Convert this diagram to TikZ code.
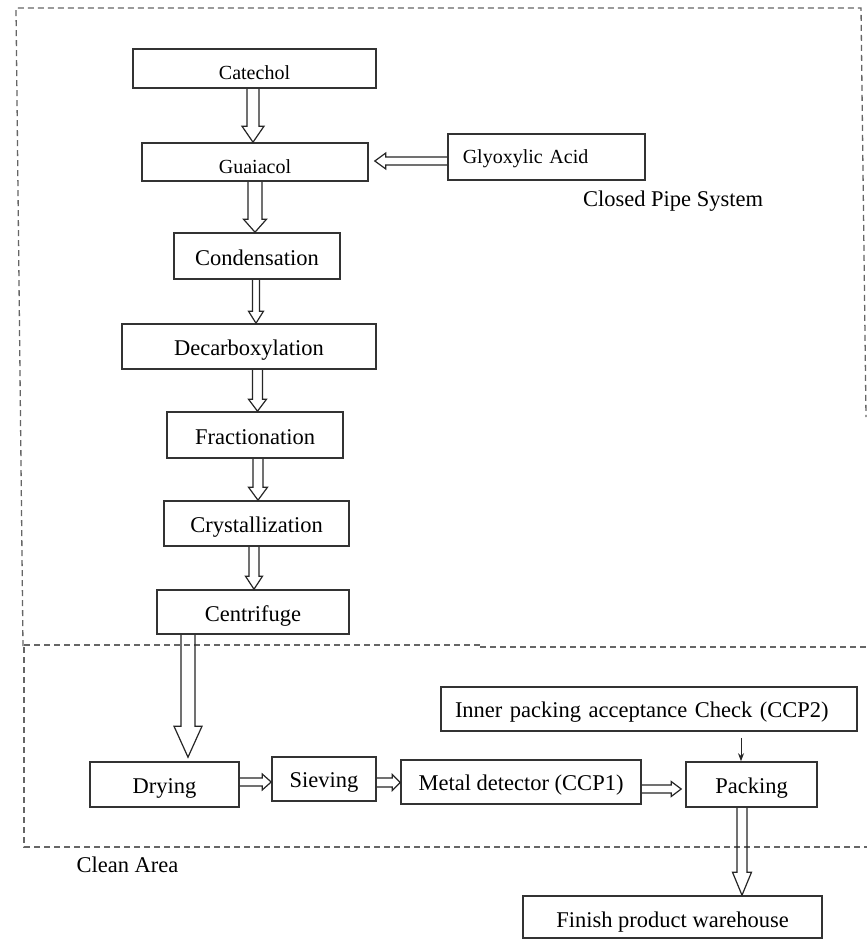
\documentclass[tikz,border=0pt]{standalone}
\usepackage{fontspec}
\setmainfont{Liberation Serif}
\usetikzlibrary{calc,arrows.meta}
\newcommand\fs[1]{\fontsize{#1}{#1}\selectfont}
% vertical down block arrow: #1 x(px), #2 from anchor, #3 to anchor, #4 shaft half, #5 head half, #6 head length, #7 gap
\newcommand\vblk[7]{%
  \draw[blk] let \p1=(#2), \p2=(#3) in
   (#1pt-#4pt,\y1) -- (#1pt-#4pt,\y2+#7pt+#6pt) -- (#1pt-#5pt,\y2+#7pt+#6pt) -- (#1pt,\y2+#7pt)
   -- (#1pt+#5pt,\y2+#7pt+#6pt) -- (#1pt+#4pt,\y2+#7pt+#6pt) -- (#1pt+#4pt,\y1);}
% rightward block arrow: #1 y(px)
\newcommand\rblk[7]{%
  \draw[blk] let \p1=(#2), \p2=(#3) in
   (\x1,-#1pt+#4pt) -- (\x2-#7pt-#6pt,-#1pt+#4pt) -- (\x2-#7pt-#6pt,-#1pt+#5pt) -- (\x2-#7pt,-#1pt)
   -- (\x2-#7pt-#6pt,-#1pt-#5pt) -- (\x2-#7pt-#6pt,-#1pt-#4pt) -- (\x1,-#1pt-#4pt);}
% leftward block arrow
\newcommand\lblk[7]{%
  \draw[blk] let \p1=(#2), \p2=(#3) in
   (\x1,-#1pt+#4pt) -- (\x2+#7pt+#6pt,-#1pt+#4pt) -- (\x2+#7pt+#6pt,-#1pt+#5pt) -- (\x2+#7pt,-#1pt)
   -- (\x2+#7pt+#6pt,-#1pt-#5pt) -- (\x2+#7pt+#6pt,-#1pt-#4pt) -- (\x1,-#1pt-#4pt);}
\begin{document}
\begin{tikzpicture}[x=1pt,y=-1pt,
  box/.style={draw=black!80, line width=1.6pt, inner sep=0pt, align=center, text=black, font=\fs{22.5}, text height=20pt, text depth=2pt},
  lbl/.style={inner sep=0pt, text=black, font=\fs{22.5}},
  blk/.style={draw=black!85, line width=1.2pt, line join=miter},
  zone/.style={draw=black!60, line width=1.3pt, dash pattern=on 6pt off 4pt}]
\useasboundingbox (0,0) rectangle (867,939);
\fill[white] (0,0) rectangle (867,939);

% dashed zones
\draw[zone] (23,646) -- (16,8) -- (861,8) -- (866,417);
\draw[zone] (24,645) -- (480,645);
\draw[zone] (480,647) -- (867,647);
\draw[zone] (24,647) -- (24,847) -- (867,847);

% nodes
\node[box, minimum width=243pt, minimum height=39pt, font=\fs{20}, text height=23pt, text depth=0.5pt] (cat) at (254.5,68.5) {Catechol};
\node[box, minimum width=226pt, minimum height=38pt, font=\fs{20}, text height=22.5pt, text depth=0.5pt] (guai) at (255,162) {Guaiacol};
\node[box, anchor=west, minimum height=46pt, text width=167pt, inner xsep=15pt, align=left, font=\fs{20}, text height=14pt, text depth=2pt] (gly) at (447,157) {Glyoxylic Acid};
\node[lbl] (cps) at (673,201) {Closed Pipe System};
\node[box, minimum width=166pt, minimum height=46pt] (cond) at (257,256) {Condensation};
\node[box, minimum width=254pt, minimum height=45pt] (dec) at (249,346.5) {Decarboxylation};
\node[box, minimum width=176pt, minimum height=46pt] (frac) at (255,435) {Fractionation};
\node[box, minimum width=185pt, minimum height=45pt] (cryst) at (256.5,523.5) {Crystallization};
\node[box, minimum width=192pt, minimum height=44pt] (cent) at (253,612) {Centrifuge};
\node[box, minimum width=149pt, minimum height=45pt, text height=19pt] (dry) at (164.5,784.5) {Drying};
\node[box, minimum width=104pt, minimum height=44pt, text height=19pt] (siev) at (324,779) {Sieving};
\node[box, minimum width=240pt, minimum height=44pt, text height=18pt] (metal) at (521,782) {Metal detector (CCP1)};
\node[box, minimum width=131pt, minimum height=45pt, text height=19pt] (pack) at (751.5,784.5) {Packing};
\node[box, minimum width=416pt, minimum height=44pt, text width=400pt, align=left, inner xsep=8pt, text height=18pt] (inner) at (649,709) {\hspace*{6pt}Inner packing acceptance Check (CCP2)};
\node[box, minimum width=299pt, minimum height=42pt, text height=22pt] (ware) at (672.5,917) {Finish product warehouse};
\node[lbl] (clean) at (127.5,865) {Clean Area};

% block arrows
\vblk{253}{cat.south}{guai.north}{6}{11}{16}{0}
\lblk{161}{gly.west}{guai.east}{4}{8}{11}{6}
\vblk{255}{guai.south}{cond.north}{7}{11.5}{13}{0}
\vblk{256}{cond.south}{dec.north}{3.5}{7.5}{12}{0}
\vblk{257.5}{dec.south}{frac.north}{5}{9}{12}{0}
\vblk{258}{frac.south}{cryst.north}{5}{9.5}{13}{0}
\vblk{254}{cryst.south}{cent.north}{5}{8.5}{13}{0}
\vblk{188}{cent.south}{dry.north}{7}{14}{31}{4}
\rblk{782}{dry.east}{siev.west}{4}{8}{9}{0}
\rblk{782.5}{siev.east}{metal.west}{4.5}{8}{8}{0}
\rblk{789}{metal.east}{pack.west}{4}{7.5}{10}{4}
\vblk{742}{pack.south}{ware.north}{5}{9.5}{23}{0}

% thin arrow
\draw[black!85, line width=1pt, -{Stealth[length=8pt,width=6pt]}] ([xshift=92pt,yshift=-6pt]inner.south) -- ([xshift=-10.5pt]pack.north);
\end{tikzpicture}
\end{document}
